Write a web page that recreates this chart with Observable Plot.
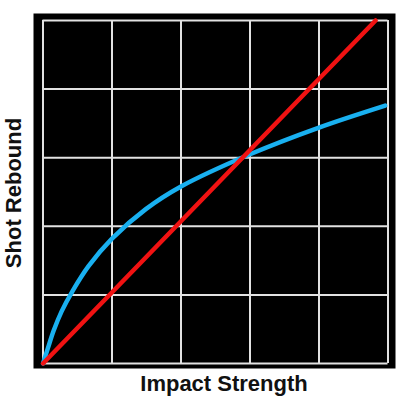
<!DOCTYPE html>
<html>
<head>
<meta charset="utf-8">
<script src="https://cdn.jsdelivr.net/npm/d3@7"></script>
<script src="https://cdn.jsdelivr.net/npm/@observablehq/plot@0.6"></script>
<style>
  html, body { margin: 0; padding: 0; background: #fff; }
</style>
</head>
<body>
<div id="chart"></div>
<script>
// Tick positions for grid
const xTicks = [0, 1, 2, 3, 4, 5];
const yTicks = [0, 1, 2, 3, 4, 5];

// Blue curve (Shot Rebound vs Impact Strength)
const blueX = [0, 0.07, 0.155, 0.27, 0.43, 0.66, 1.0, 1.49, 2.0, 3.0, 4.0, 4.96];
const blueY = [0, 0.22, 0.48, 0.76, 1.06, 1.42, 1.82, 2.25, 2.58, 3.05, 3.44, 3.76];

// Red straight line
const redX = [0, 4.82];
const redY = [0, 5];

const xLabel = "Impact Strength";
const yLabel = "Shot Rebound";

const blue = blueX.map((x, i) => ({x, y: blueY[i]}));
const red = redX.map((x, i) => ({x, y: redY[i]}));

const chart = Plot.plot({
  width: 400,
  height: 400,
  marginLeft: 42.5,
  marginRight: 12.5,
  marginTop: 20,
  marginBottom: 37,
  style: {background: "white", fontFamily: "'Liberation Sans', Arial, sans-serif"},
  x: {domain: [0, 5], axis: null},
  y: {domain: [0, 5], axis: null},
  marks: [
    Plot.frame({fill: "black", stroke: "none", insetLeft: -9.5, insetRight: -7.5, insetTop: -7, insetBottom: -5}),
    Plot.gridX(xTicks, {stroke: "#e2e2e2", strokeOpacity: 1, strokeWidth: 2}),
    Plot.gridY(yTicks, {stroke: "#e2e2e2", strokeOpacity: 1, strokeWidth: 2}),
    Plot.line(blue, {x: "x", y: "y", stroke: "#19b0f0", strokeWidth: 4.5, curve: "catmull-rom"}),
    Plot.line(red, {x: "x", y: "y", stroke: "#f01212", strokeWidth: 4.5}),
    Plot.text([xLabel], {frameAnchor: "bottom", text: d => d, dx: 8.5, dy: 20,
      textAnchor: "middle", lineAnchor: "middle",
      fontSize: 22, fontWeight: "bold", fill: "#111"}),
    Plot.text([yLabel], {frameAnchor: "left", text: d => d, rotate: -90, dx: -29.5, dy: 1,
      textAnchor: "middle", lineAnchor: "middle",
      fontSize: 22, fontWeight: "bold", fill: "#111"})
  ]
});
document.getElementById("chart").appendChild(chart);
</script>
</body>
</html>
